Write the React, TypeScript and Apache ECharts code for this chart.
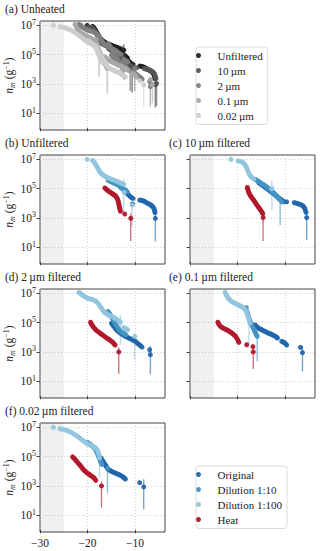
import React, { useEffect, useRef } from "react";
import * as echarts from "echarts";

// Values: [temperature (°C), log10 n_m (g^-1)]
type Pt = [number, number];
// Error bars: [temperature, log10 lower, log10 upper]
type Er = [number, number, number];

// ---------- (b) Unfiltered ----------
const unfOriginal: Pt[] = [[-12.9,5.05],[-12.52,4.96],[-12.2,4.87],[-11.96,4.78],[-11.7,4.7],[-11.47,4.6],[-11.2,4.52],[-10.98,4.44],[-10.7,4.38],[-10.42,4.33],[-10.56,3.95],[-9.02,4.22],[-8.75,4.21],[-8.53,4.19],[-8.3,4.16],[-8.04,4.13],[-7.8,4.08],[-7.55,4.04],[-7.3,3.99],[-7.06,3.95],[-6.8,3.9],[-6.57,3.86],[-6.4,3.8],[-6.22,3.74],[-6.05,3.65],[-5.94,3.56],[-5.85,3.45],[-5.8,3.36],[-5.73,2.97]];
const unfOriginalErr: Er[] = [[-5.73,1.39,3.2]];
const unfDil10: Pt[] = [[-15.66,5.57],[-15.3,5.52],[-14.97,5.46],[-14.6,5.4],[-14.27,5.35],[-13.9,5.3],[-13.57,5.24],[-13.2,5.14],[-12.87,5.05],[-12.5,5.0],[-12.17,4.94],[-11.9,4.86],[-11.6,4.78]];
const unfDil10Err: Er[] = [];
const unfDil100: Pt[] = [[-20.07,7.0],[-18.95,6.93],[-18.78,6.88],[-18.6,6.82],[-18.42,6.73],[-18.25,6.64],[-18.07,6.53],[-17.9,6.43],[-17.72,6.33],[-17.55,6.23],[-17.38,6.14],[-17.2,6.07],[-17.02,6.01],[-16.85,5.96],[-16.6,5.9],[-16.36,5.85],[-16.1,5.8],[-15.87,5.76],[-15.6,5.72],[-15.3,5.69],[-15.03,5.65],[-14.76,5.62],[-14.5,5.58],[-14.2,5.55],[-13.9,5.51],[-13.64,5.48],[-13.35,5.44],[-13.08,5.39],[-12.66,5.33],[-12.38,5.3],[-12.3,4.75],[-10.63,3.88]];
const unfDil100Err: Er[] = [[-12.38,3.31,5.69],[-10.63,2.41,4.05]];
const unfHeat: Pt[] = [[-16.36,5.05],[-16.18,5.0],[-16.0,4.94],[-15.83,4.9],[-15.66,4.85],[-15.45,4.8],[-15.24,4.76],[-15.03,4.71],[-14.83,4.67],[-14.62,4.62],[-14.41,4.58],[-14.23,4.54],[-14.06,4.49],[-13.92,4.42],[-13.78,4.35],[-13.67,4.26],[-13.57,4.17],[-13.5,4.07],[-13.43,3.97],[-13.36,3.87],[-13.29,3.76],[-13.22,3.66],[-13.15,3.56],[-13.08,3.45],[-12.17,3.27],[-10.91,2.97]];
const unfHeatErr: Er[] = [[-10.91,1.43,3.3]];

// ---------- (c) 10 µm ----------
const f10Original: Pt[] = [[-15.52,5.39],[-15.17,5.31],[-14.83,5.24],[-14.48,5.16],[-14.14,5.08],[-13.8,4.99],[-13.45,4.9],[-13.1,4.82],[-12.76,4.74],[-12.4,4.65],[-12.07,4.56],[-11.72,4.47],[-11.38,4.38],[-11.03,4.3],[-10.69,4.22],[-10.45,4.16],[-10.21,4.1],[-9.66,4.1],[-8.07,4.04],[-7.76,4.02],[-7.45,3.99],[-7.14,3.96],[-6.83,3.92],[-6.55,3.88],[-6.28,3.83],[-6.05,3.75],[-5.86,3.65],[-5.72,3.52],[-5.59,3.38],[-5.45,3.02]];
const f10OriginalErr: Er[] = [[-5.45,1.5,3.3]];
const f10Dil10: Pt[] = [[-16.21,5.62],[-15.97,5.58],[-15.72,5.53],[-15.48,5.48],[-15.24,5.42],[-14.97,5.36],[-14.69,5.3],[-14.4,5.25],[-14.14,5.19],[-13.86,5.12],[-13.59,5.05],[-13.3,4.98],[-13.03,4.9],[-12.76,4.82],[-12.48,4.74],[-12.2,4.65],[-11.93,4.56],[-11.72,4.48],[-11.52,4.4],[-11.27,4.31],[-11.03,4.22],[-10.69,4.1]];
const f10Dil10Err: Er[] = [[-11.03,2.52,4.44]];
const f10Dil100: Pt[] = [[-21.38,7.0],[-19.86,6.89],[-19.4,6.86],[-18.97,6.82],[-18.76,6.75],[-18.55,6.68],[-18.38,6.6],[-18.2,6.52],[-18.07,6.42],[-17.93,6.32],[-17.8,6.21],[-17.66,6.1],[-17.52,6.0],[-17.38,5.91],[-17.2,5.84],[-17.03,5.78],[-16.8,5.72],[-16.55,5.67],[-12.76,5.0]];
const f10Dil100Err: Er[] = [[-12.76,3.54,5.57]];
const f10Heat: Pt[] = [[-17.93,5.08],[-17.86,4.99],[-17.79,4.9],[-17.7,4.8],[-17.59,4.71],[-17.45,4.62],[-17.31,4.53],[-17.14,4.45],[-16.97,4.38],[-16.76,4.28],[-16.55,4.19],[-16.35,4.09],[-16.14,3.99],[-15.93,3.89],[-15.72,3.79],[-15.52,3.7],[-15.31,3.61],[-15.14,3.53],[-14.97,3.45],[-14.83,3.37],[-14.69,3.29],[-14.62,3.02]];
const f10HeatErr: Er[] = [[-14.62,1.43,3.25]];

// ---------- (d) 2 µm ----------
const f2Original: Pt[] = [[-14.97,4.96],[-14.72,4.85],[-14.48,4.74],[-14.2,4.62],[-13.92,4.51],[-13.64,4.43],[-13.36,4.35],[-13.08,4.28],[-12.8,4.22],[-12.52,4.16],[-12.24,4.1],[-11.96,4.05],[-11.68,4.01],[-11.4,3.96],[-11.12,3.92],[-10.84,3.87],[-10.56,3.83],[-10.28,3.78],[-10.0,3.74],[-9.75,3.67],[-9.51,3.6],[-9.26,3.53],[-9.02,3.47],[-8.78,3.4],[-8.53,3.33],[-6.92,3.15],[-6.78,2.81]];
const f2OriginalErr: Er[] = [[-6.78,1.46,3.4]];
const f2Dil10: Pt[] = [[-15.66,5.76],[-15.42,5.65],[-15.17,5.53],[-14.97,5.4],[-14.76,5.26],[-14.55,5.14],[-14.34,5.03],[-14.13,4.92],[-13.92,4.81],[-13.71,4.7],[-13.5,4.58],[-13.29,4.49],[-13.08,4.4],[-12.8,4.34],[-12.52,4.29],[-12.24,4.23],[-11.96,4.17]];
const f2Dil10Err: Er[] = [];
const f2Dil100: Pt[] = [[-21.82,7.07],[-21.58,7.01],[-21.33,6.95],[-21.05,6.88],[-20.77,6.82],[-20.49,6.76],[-20.21,6.71],[-19.93,6.67],[-19.65,6.64],[-19.37,6.61],[-19.09,6.59],[-18.81,6.56],[-18.53,6.52],[-18.25,6.46],[-17.97,6.39],[-17.69,6.28],[-17.41,6.16],[-17.16,6.03],[-16.92,5.91],[-16.67,5.8],[-16.43,5.69],[-16.15,5.63],[-15.87,5.57],[-15.59,5.52],[-15.31,5.48],[-15.03,5.43],[-14.76,5.39],[-14.48,5.35],[-14.2,5.3],[-13.92,5.24],[-13.64,5.17],[-13.36,5.1],[-13.08,5.03],[-12.38,4.67],[-12.17,4.62],[-11.96,4.58],[-11.75,4.55],[-11.54,4.51],[-10.07,4.06]];
const f2Dil100Err: Er[] = [[-13.08,3.49,5.53],[-10.07,2.48,4.3]];
const f2Heat: Pt[] = [[-19.37,5.03],[-19.23,4.94],[-19.09,4.85],[-18.92,4.77],[-18.74,4.69],[-18.53,4.61],[-18.32,4.53],[-18.08,4.46],[-17.83,4.4],[-17.55,4.33],[-17.27,4.26],[-16.99,4.19],[-16.71,4.13],[-16.43,4.06],[-16.15,3.99],[-15.87,3.93],[-15.59,3.88],[-15.35,3.82],[-15.1,3.76],[-14.86,3.7],[-14.62,3.63],[-14.41,3.55],[-14.2,3.47],[-13.43,3.0]];
const f2HeatErr: Er[] = [[-13.43,1.5,3.3]];

// ---------- (e) 0.1 µm ----------
const f01Original: Pt[] = [[-16.34,4.85],[-16.1,4.77],[-15.86,4.69],[-15.58,4.63],[-15.31,4.58],[-15.03,4.53],[-14.76,4.49],[-14.48,4.44],[-14.21,4.4],[-13.93,4.35],[-13.66,4.31],[-13.38,4.27],[-13.1,4.24],[-12.83,4.19],[-12.55,4.15],[-12.28,4.1],[-12.0,4.06],[-11.8,4.0],[-11.59,3.95],[-10.69,3.72],[-10.41,3.68],[-10.14,3.63],[-9.9,3.55],[-9.66,3.47],[-6.76,3.31],[-6.34,2.95]];
const f01OriginalErr: Er[] = [[-6.34,1.68,3.4]];
const f01Dil10: Pt[] = [[-18.14,6.03],[-18.0,5.76],[-17.9,5.64],[-17.79,5.53],[-17.62,5.36],[-17.45,5.19],[-17.28,5.04],[-17.1,4.9],[-16.93,4.78],[-16.76,4.67],[-16.58,4.55],[-16.41,4.44],[-16.28,4.34],[-16.14,4.24],[-16.0,4.15],[-15.86,4.06]];
const f01Dil10Err: Er[] = [[-15.86,2.36,4.4]];
const f01Dil100: Pt[] = [[-22.62,7.07],[-22.45,6.95],[-22.28,6.84],[-22.1,6.75],[-21.93,6.66],[-21.72,6.59],[-21.52,6.52],[-21.28,6.46],[-21.03,6.41],[-20.76,6.36],[-20.48,6.32],[-20.2,6.27],[-19.93,6.23],[-19.66,6.18],[-19.38,6.14],[-19.1,6.09],[-18.83,6.03],[-18.62,5.96],[-18.41,5.89],[-18.24,5.79],[-18.07,5.69],[-17.93,5.55],[-17.79,5.42],[-17.69,5.3],[-17.59,5.19],[-17.38,4.96]];
const f01Dil100Err: Er[] = [[-17.59,3.49,5.3]];
const f01Heat: Pt[] = [[-24.14,5.03],[-24.0,4.94],[-23.86,4.85],[-23.65,4.78],[-23.45,4.71],[-23.2,4.66],[-22.97,4.62],[-22.69,4.57],[-22.41,4.53],[-22.14,4.48],[-21.86,4.44],[-21.62,4.38],[-21.38,4.33],[-21.14,4.27],[-20.9,4.22],[-20.65,4.14],[-20.41,4.06],[-20.2,3.96],[-20.0,3.86],[-19.86,3.76],[-19.72,3.65],[-18.07,3.49],[-16.76,3.36],[-16.69,3.0]];
const f01HeatErr: Er[] = [[-16.69,1.84,3.3]];

// ---------- (f) 0.02 µm ----------
const f002Original: Pt[] = [[-17.2,4.92],[-17.03,4.83],[-16.85,4.74],[-16.68,4.65],[-16.5,4.56],[-16.33,4.47],[-16.15,4.38],[-15.98,4.28],[-15.8,4.19],[-15.55,4.12],[-15.31,4.06],[-15.03,4.01],[-14.76,3.97],[-14.48,3.92],[-14.2,3.88],[-13.92,3.84],[-13.64,3.81],[-13.36,3.77],[-13.08,3.72],[-12.8,3.67],[-12.52,3.61],[-12.27,3.54],[-12.03,3.47],[-9.02,3.22],[-8.18,2.93]];
const f002OriginalErr: Er[] = [[-8.18,1.41,3.45]];
const f002Dil10: Pt[] = [[-20.07,5.98],[-19.79,5.93],[-19.51,5.87],[-19.23,5.79],[-18.95,5.71],[-18.7,5.63],[-18.46,5.55],[-18.28,5.46],[-18.11,5.37],[-17.97,5.25],[-17.83,5.14],[-17.69,5.03],[-17.55,4.92],[-17.41,4.8],[-17.27,4.69],[-17.13,4.58],[-16.99,4.47],[-15.8,4.2]];
const f002Dil10Err: Er[] = [[-15.8,2.48,4.4]];
const f002Dil100: Pt[] = [[-27.2,7.0],[-25.8,6.91],[-25.4,6.88],[-24.97,6.86],[-24.6,6.81],[-24.2,6.77],[-23.8,6.72],[-23.43,6.66],[-23.08,6.59],[-22.73,6.52],[-22.38,6.45],[-22.03,6.37],[-21.7,6.29],[-21.4,6.21],[-21.08,6.13],[-20.77,6.05],[-20.49,5.98],[-20.21,5.91],[-19.93,5.86],[-19.65,5.82],[-19.37,5.77],[-19.09,5.73],[-18.81,5.68],[-18.53,5.64],[-18.32,5.59],[-18.11,5.53],[-17.97,5.45],[-17.83,5.37],[-17.72,5.26],[-17.62,5.14],[-17.48,4.92]];
const f002Dil100Err: Er[] = [[-17.48,3.56,5.2]];
const f002Heat: Pt[] = [[-23.15,4.99],[-22.94,4.92],[-22.73,4.85],[-22.52,4.77],[-22.31,4.69],[-22.1,4.61],[-21.89,4.53],[-21.68,4.45],[-21.47,4.38],[-21.26,4.28],[-21.05,4.19],[-20.84,4.11],[-20.63,4.04],[-20.38,3.97],[-20.14,3.9],[-19.9,3.84],[-19.65,3.79],[-19.4,3.73],[-19.16,3.67],[-18.92,3.62],[-18.67,3.56],[-18.46,3.47],[-18.25,3.38],[-17.06,3.0]];
const f002HeatErr: Er[] = [[-17.06,1.52,3.3]];

// Axis ticks and ranges
const xTicks = [-30, -20, -10];
const yTicks = [1, 3, 5, 7];
const xRange = [-30, -3.7];
const yRange = [-0.15, 7.3];
const shaded: number[][] = [[-30, -25]];

const filterNames = ["Unfiltered", "10\u2009µm", "2\u2009µm", "0.1\u2009µm", "0.02\u2009µm"];
const treatmentNames = ["Original", "Dilution 1:10", "Dilution 1:100", "Heat"];
const panelTitles = [
  "(a) Unheated",
  "(b) Unfiltered",
  "(c) 10\u2009µm filtered",
  "(d) 2\u2009µm filtered",
  "(e) 0.1\u2009µm filtered",
  "(f) 0.02\u2009µm filtered",
];

const panels = [
  { pts: [unfOriginal, unfDil10, unfDil100, unfHeat], errs: [unfOriginalErr, unfDil10Err, unfDil100Err, unfHeatErr] },
  { pts: [f10Original, f10Dil10, f10Dil100, f10Heat], errs: [f10OriginalErr, f10Dil10Err, f10Dil100Err, f10HeatErr] },
  { pts: [f2Original, f2Dil10, f2Dil100, f2Heat], errs: [f2OriginalErr, f2Dil10Err, f2Dil100Err, f2HeatErr] },
  { pts: [f01Original, f01Dil10, f01Dil100, f01Heat], errs: [f01OriginalErr, f01Dil10Err, f01Dil100Err, f01HeatErr] },
  { pts: [f002Original, f002Dil10, f002Dil100, f002Heat], errs: [f002OriginalErr, f002Dil10Err, f002Dil100Err, f002HeatErr] },
];

const treatColors = ["#2166ac", "#4393c3", "#92c5de", "#b2182b"];
const grayColors = ["#222222", "#555555", "#7f7f7f", "#a8a8a8", "#cccccc"];

const FONT = "'Liberation Serif', 'DejaVu Serif', 'Times New Roman', serif";

const cells = [
  { left: 40, top: 21, ylab: true, xlab: false },
  { left: 40, top: 155, ylab: true, xlab: false },
  { left: 190, top: 155, ylab: false, xlab: false },
  { left: 40, top: 289, ylab: true, xlab: false },
  { left: 190, top: 289, ylab: false, xlab: false },
  { left: 40, top: 423, ylab: true, xlab: true },
];
const CW = 125;
const CH = 109;

function scatterSeries(name: string, data: Pt[], color: string, idx: number) {
  return {
    type: "scatter",
    name,
    data,
    xAxisIndex: idx,
    yAxisIndex: idx,
    symbolSize: 5,
    itemStyle: { color, opacity: 0.95 },
    z: 3,
    silent: true,
  };
}

function errSeries(name: string, data: Er[], color: string, idx: number) {
  return {
    type: "custom",
    name: name + " error",
    data,
    xAxisIndex: idx,
    yAxisIndex: idx,
    encode: { x: 0, y: [1, 2] },
    z: 2,
    silent: true,
    renderItem: (_params: any, api: any) => {
      const x = api.value(0);
      const a = api.coord([x, api.value(1)]);
      const b = api.coord([x, api.value(2)]);
      return {
        type: "line",
        shape: { x1: a[0], y1: a[1], x2: b[0], y2: b[1] },
        style: { stroke: color, lineWidth: 1.4, opacity: 0.6 },
      };
    },
  };
}

function shadeSeries(idx: number) {
  return {
    type: "custom",
    name: "shade",
    data: shaded,
    xAxisIndex: idx,
    yAxisIndex: idx,
    encode: { x: [0, 1] },
    z: 1,
    silent: true,
    renderItem: (params: any, api: any) => {
      const cs = params.coordSys;
      const p0 = api.coord([api.value(0), 3]);
      const p1 = api.coord([api.value(1), 3]);
      return {
        type: "rect",
        shape: { x: p0[0], y: cs.y, width: p1[0] - p0[0], height: cs.height },
        style: { fill: "rgba(0,0,0,0.06)" },
      };
    },
  };
}

export default function App() {
  const ref = useRef<HTMLDivElement>(null);
  useEffect(() => {
    document.body.style.margin = "0";
    if (!ref.current) return;
    const chart = echarts.init(ref.current, undefined, { renderer: "svg" });

    const series: any[] = [];
    cells.forEach((_, i) => series.push(shadeSeries(i)));
    // (a) unheated: all unheated measurements per filter
    panels.forEach((p, f) => {
      const pts = ([] as Pt[]).concat(p.pts[0], p.pts[1], p.pts[2]);
      const errs = ([] as Er[]).concat(p.errs[0], p.errs[1], p.errs[2]);
      series.push(errSeries(filterNames[f], errs, grayColors[f], 0));
      series.push(scatterSeries(filterNames[f], pts, grayColors[f], 0));
    });
    // (b)-(f)
    panels.forEach((p, f) => {
      const idx = f + 1;
      for (let k = 0; k < 4; k++) {
        series.push(errSeries(treatmentNames[k], p.errs[k], treatColors[k], idx));
        series.push(scatterSeries(treatmentNames[k], p.pts[k], treatColors[k], idx));
      }
    });

    const legendBase = {
      orient: "vertical",
      left: 196,
      itemWidth: 28,
      itemHeight: 5,
      itemGap: 4,
      icon: "circle",
      padding: [3, 5, 3.5, 0],
      borderColor: "#d0d0d0",
      borderWidth: 0.8,
      borderRadius: 3,
      backgroundColor: "#ffffff",
      selectedMode: false,
      textStyle: { fontFamily: FONT, fontSize: 11, color: "#222", lineHeight: 11 },
    };

    const option: any = {
      animation: false,
      textStyle: { fontFamily: FONT },
      title: cells.map((c, i) => ({
        text: panelTitles[i],
        left: c.ylab ? 5 : 169,
        top: c.top - 18.5,
        padding: 0,
        textStyle: { fontFamily: FONT, fontSize: 11.5, fontWeight: "normal", color: "#222" },
      })),
      legend: [
        { ...legendBase, top: 47, data: filterNames.map((n, i) => ({ name: n, itemStyle: { color: grayColors[i] } })) },
        { ...legendBase, top: 466, data: treatmentNames.map((n, i) => ({ name: n, itemStyle: { color: treatColors[i] } })) },
      ],
      grid: cells.map((c) => ({
        left: c.left,
        top: c.top,
        width: CW,
        height: CH,
        show: true,
        borderColor: "#444",
        borderWidth: 1,
        backgroundColor: "transparent",
        containLabel: false,
        outerBoundsMode: "none",
      })),
      xAxis: cells.map((c, i) => ({
        type: "value",
        gridIndex: i,
        min: xRange[0],
        max: xRange[1],
        axisLine: { show: false },
        axisTick: { show: true, customValues: xTicks, length: 3.5, lineStyle: { color: "#444", width: 1 } },
        axisLabel: {
          show: c.xlab,
          customValues: xTicks,
          formatter: (v: number) => String(v).replace("-", "\u2212"),
          color: "#222",
          fontSize: 11.5,
          fontFamily: FONT,
          margin: 5,
        },
        splitLine: { show: true, lineStyle: { color: "#c4c4c4", width: 0.8, type: [1, 2] } },
      })),
      yAxis: cells.map((c, i) => ({
        type: "value",
        gridIndex: i,
        min: yRange[0],
        max: yRange[1],
        axisLine: { show: false },
        axisTick: { show: true, customValues: yTicks, length: 3.5, lineStyle: { color: "#444", width: 1 } },
        axisLabel: {
          show: c.ylab,
          customValues: yTicks,
          formatter: (v: number) => `{b|10}{s|${v}}`,
          margin: 4,
          rich: {
            b: { fontFamily: FONT, fontSize: 11.5, color: "#222", lineHeight: 14 },
            s: { fontFamily: FONT, fontSize: 8, color: "#222", verticalAlign: "top", lineHeight: 14 },
          },
        },
        splitLine: { show: true, lineStyle: { color: "#c4c4c4", width: 0.8, type: [1, 2] } },
        name: c.ylab ? "{i|n}{m|m}{t| (g}{s|\u22121}{t|)}" : "",
        nameLocation: "middle",
        nameRotate: 90,
        nameGap: 24,
        nameTextStyle: {
          rich: {
            i: { fontFamily: FONT, fontSize: 11.5, fontStyle: "italic", color: "#222", lineHeight: 14 },
            m: { fontFamily: FONT, fontSize: 8, fontStyle: "italic", color: "#222", verticalAlign: "bottom", lineHeight: 13 },
            t: { fontFamily: FONT, fontSize: 11.5, color: "#222", lineHeight: 14 },
            s: { fontFamily: FONT, fontSize: 8, color: "#222", verticalAlign: "top", lineHeight: 14 },
          },
        },
      })),
      series,
    };

    chart.setOption(option);
    return () => chart.dispose();
  }, []);

  return <div ref={ref} style={{ width: 320, height: 551 }} />;
}
